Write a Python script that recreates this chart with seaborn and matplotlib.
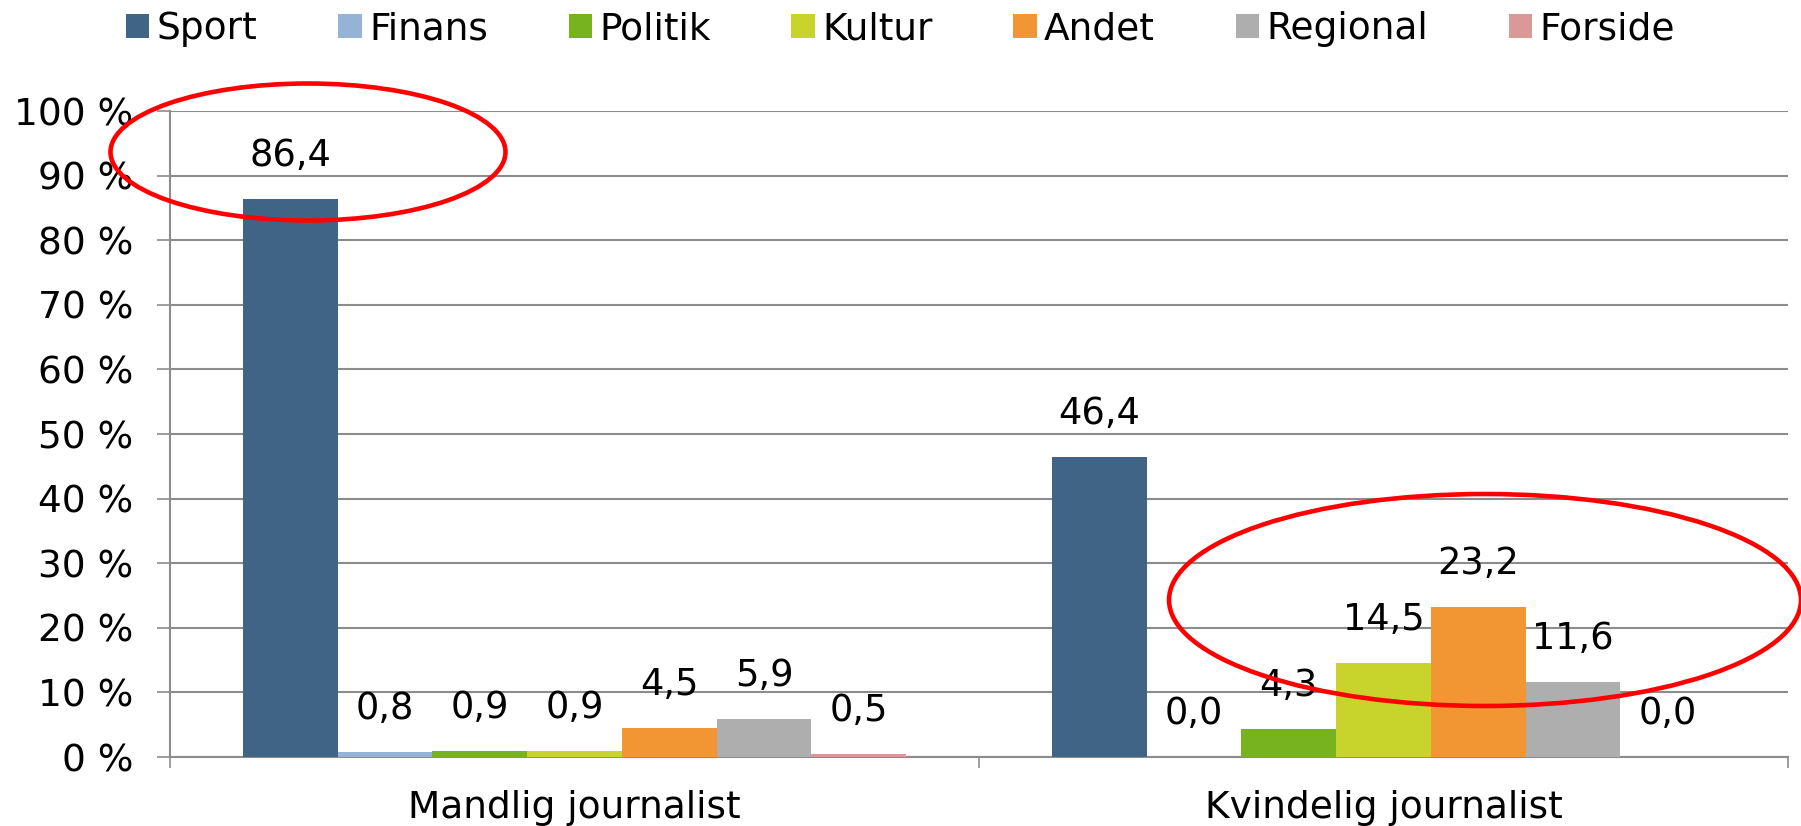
import pandas as pd
import matplotlib
matplotlib.use("Agg")
import matplotlib.pyplot as plt
from matplotlib.patches import Ellipse
from matplotlib.ticker import FuncFormatter, FixedLocator
import seaborn as sns

sns.set_theme(style="white")
plt.rcParams.update({
    "font.family": ["DejaVu Sans"],
    "font.size": 27,
    "text.color": "black",
})

# Data (percent)
categories = ["Mandlig journalist", "Kvindelig journalist"]
topics = ["Sport", "Finans", "Politik", "Kultur", "Andet", "Regional", "Forside"]
mandlig = [86.4, 0.8, 0.9, 0.9, 4.5, 5.9, 0.5]
kvindelig = [46.4, 0.0, 4.3, 14.5, 23.2, 11.6, 0.0]

colors = ["#406485", "#95B3D7", "#77B31E", "#C8D42B", "#F29634", "#AEAEAE", "#DA9896"]

rows = []
for cat, vals in zip(categories, [mandlig, kvindelig]):
    for topic, v in zip(topics, vals):
        rows.append({"Køn": cat, "Emne": topic, "Andel": v})
df = pd.DataFrame(rows)

fig = plt.figure(figsize=(18.01, 8.26), dpi=100)
ax = fig.add_axes([170 / 1801, 69 / 826, (1788 - 170) / 1801, (757 - 111) / 826])

sns.barplot(
    data=df, x="Køn", y="Andel", hue="Emne",
    order=categories, hue_order=topics, palette=colors, saturation=1,
    width=0.82, linewidth=0, ax=ax, zorder=3,
)

# value labels with decimal comma
for cont in ax.containers:
    labels = [f"{b.get_height():.1f}".replace(".", ",") for b in cont]
    ax.bar_label(cont, labels=labels, padding=18, fontsize=26.5, color="black")

ax.set_ylim(0, 100)
ax.set_xlim(-0.5, 1.5)
ax.set_yticks(range(0, 101, 10))
ax.yaxis.set_major_formatter(FuncFormatter(lambda v, p: f"{v:.0f} %"))
ax.yaxis.grid(True, color="#8C8C8C", linewidth=1.5, zorder=0)
ax.set_axisbelow(True)
ax.set_xlabel("")
ax.set_ylabel("")

for side in ["top", "right"]:
    ax.spines[side].set_visible(False)
for side in ["left", "bottom"]:
    ax.spines[side].set_color("#8C8C8C")
    ax.spines[side].set_linewidth(1.5)

ax.tick_params(axis="y", which="major", left=True, length=9.5, width=1.2,
               color="#8C8C8C", pad=17, labelsize=27, labelcolor="black")
ax.tick_params(axis="x", which="major", length=0, pad=24, labelsize=27, labelcolor="black")
ax.xaxis.set_minor_locator(FixedLocator([-0.5, 0.5, 1.5]))
ax.tick_params(axis="x", which="minor", bottom=True, length=8, width=1.2, color="#8C8C8C")

# legend across the top
handles, labels = ax.get_legend_handles_labels()
ax.get_legend().remove()
fig.legend(handles, labels, loc="center", bbox_to_anchor=(0.5, 1 - 29 / 826),
           ncol=7, frameon=False, fontsize=27, handlelength=0.62, handleheight=0.62,
           handletextpad=0.2, columnspacing=2.15, borderpad=0, labelcolor="black")

# red highlight rings
fig.add_artist(Ellipse((308 / 1801, 1 - 152 / 826), 395 / 1801, 137 / 826,
                       transform=fig.transFigure, fill=False, edgecolor="#FF0000",
                       linewidth=3.3, zorder=10))
fig.add_artist(Ellipse((1485 / 1801, 1 - 600 / 826), 632 / 1801, 212 / 826,
                       transform=fig.transFigure, fill=False, edgecolor="#FF0000",
                       linewidth=3.3, zorder=10))

fig.savefig("out.png", dpi=100)
